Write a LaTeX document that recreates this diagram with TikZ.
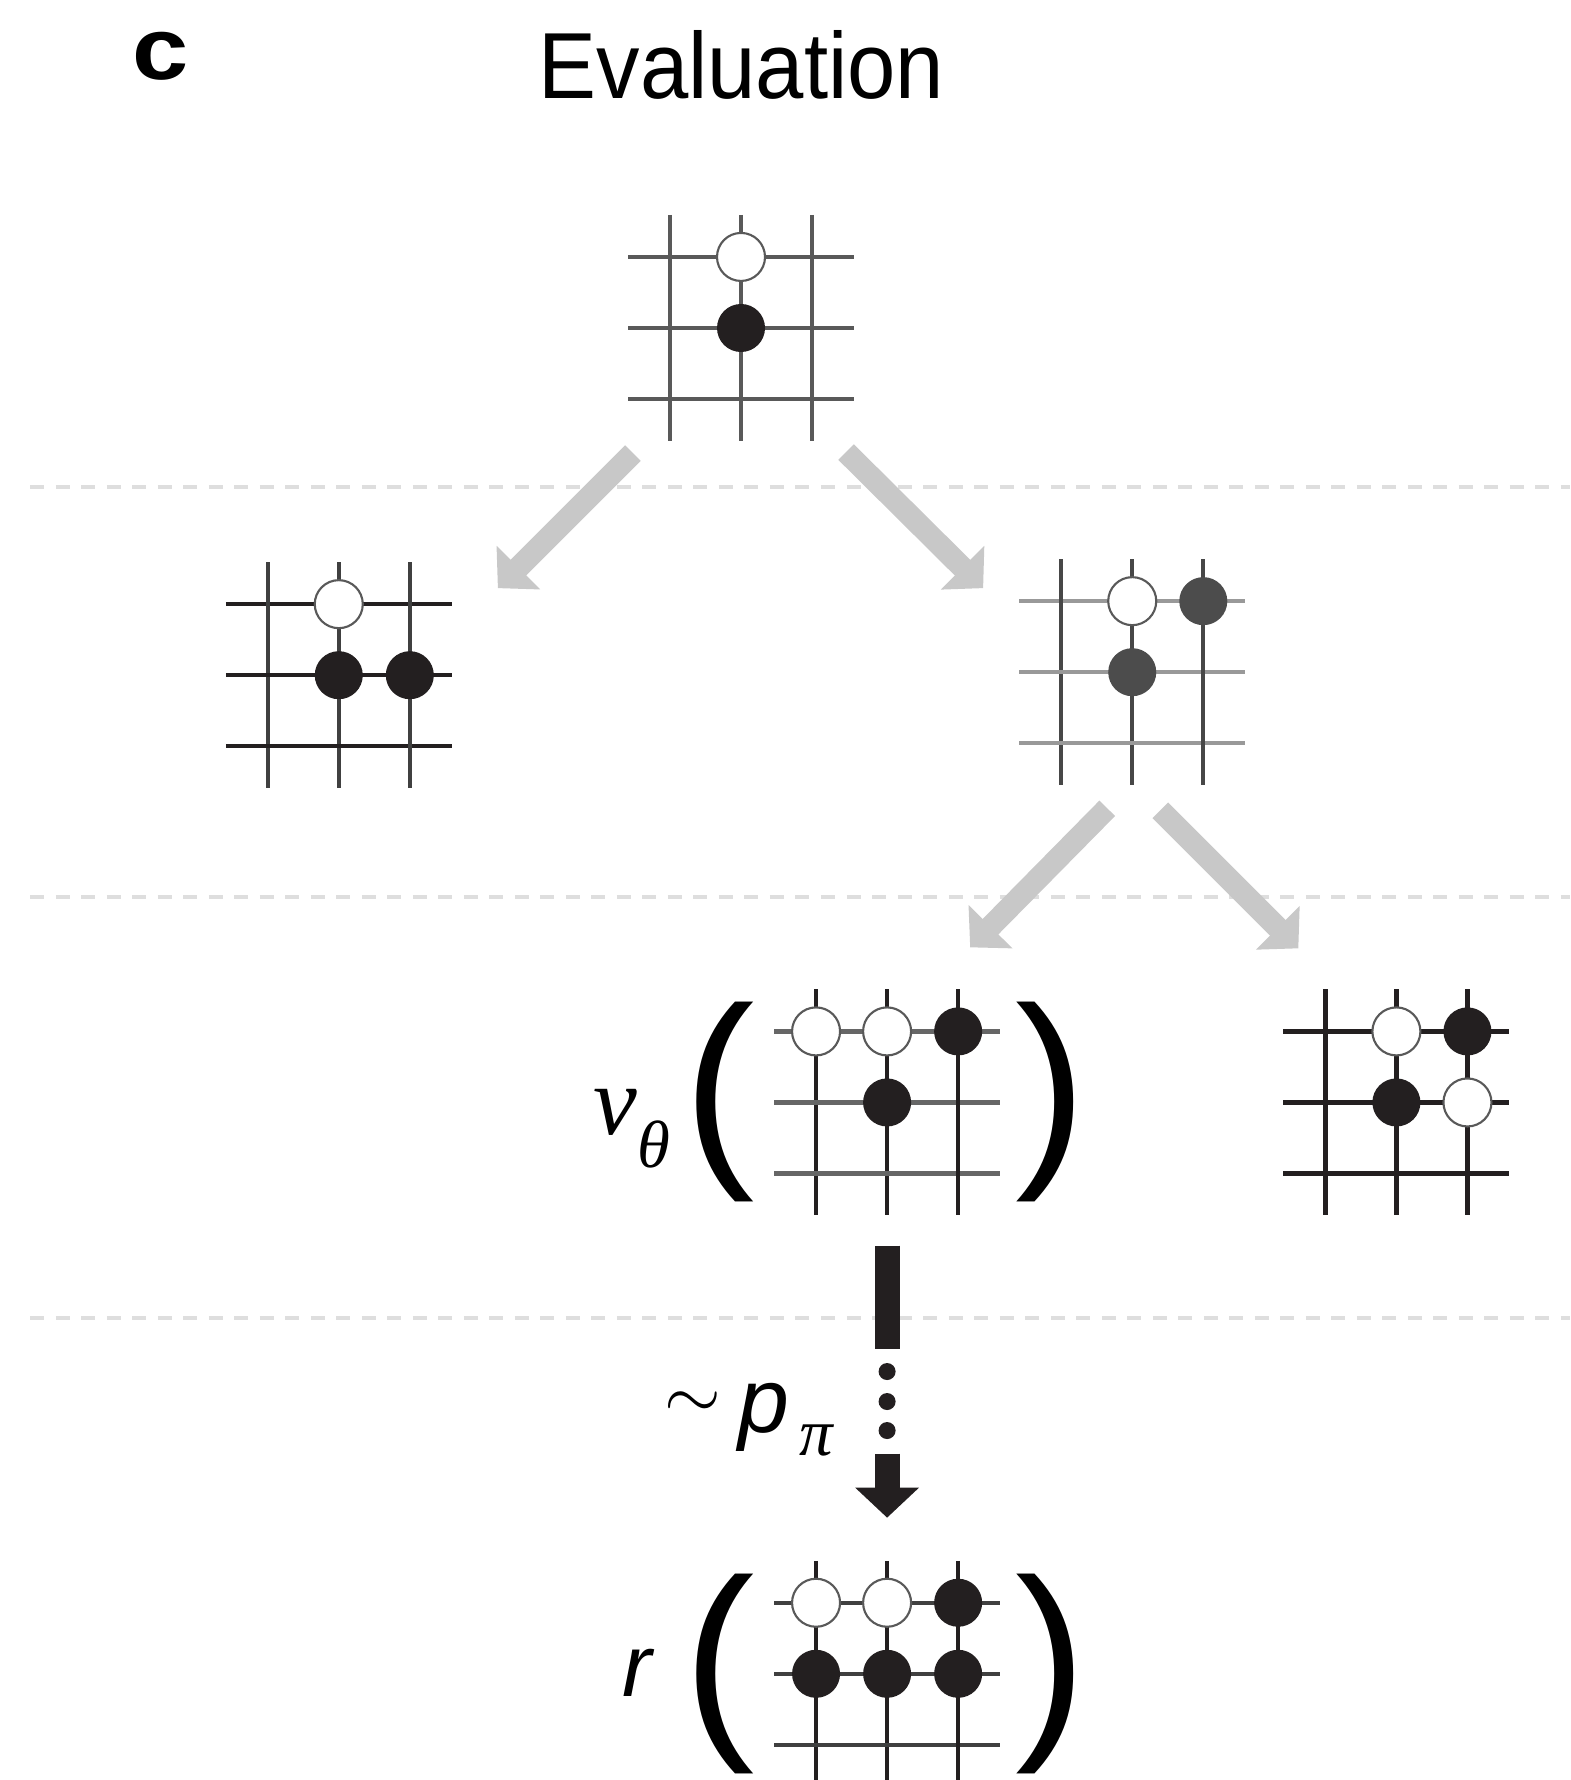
\documentclass[tikz,border=0pt]{standalone}
\usepackage{fontspec}
\setmainfont{Liberation Sans}
\newfontfamily\timesfont{Liberation Serif}
\usetikzlibrary{arrows.meta,positioning,calc}

\definecolor{stoneblack}{HTML}{231F20}
\definecolor{branchgray}{HTML}{C8C8C8}
\definecolor{rulegray}{HTML}{DEDEDE}

\tikzset{
  board/.style={minimum size=2.28cm, inner sep=0pt},
  gridline/.style={line width=1.2pt},
  wstone/.style={circle, draw=black!65, fill=white, line width=0.6pt, minimum size=0.48cm, inner sep=0pt},
  bstone/.style={circle, fill=stoneblack, minimum size=0.48cm, inner sep=0pt},
  gstone/.style={circle, fill=black!70, minimum size=0.48cm, inner sep=0pt},
  branch/.style={branchgray, line width=0.22cm, -{Triangle[length=0.29cm,width=0.6cm]}},
  rollout/.style={stoneblack, line width=0.25cm},
  sepline/.style={rulegray, line width=1.1pt, dash pattern=on 0.14cm off 0.115cm},
  paren/.style={inner sep=0pt, font=\fontsize{61}{62}\selectfont},
}

% grid lines of the board at node #1: horizontal colour #2, vertical colour #3
\newcommand{\goboard}[3]{%
  \foreach \k in {-71,0,71} {
    \draw[gridline,#2] ($(#1)+(-113,\k)$) -- ($(#1)+(113,\k)$);
    \draw[gridline,#3] ($(#1)+(\k,-113)$) -- ($(#1)+(\k,113)$);
  }}

\begin{document}
\begin{tikzpicture}[x=0.01cm, y=-0.01cm, on grid, node distance=0.71cm and 0.71cm]
  \useasboundingbox (0,0) rectangle (1570,1780);

  % level separators
  \foreach \y in {487,897,1318}
    \draw[sepline] (30,\y) -- (1570,\y);

  % headings
  \node[anchor=base west, inner sep=0pt, font=\bfseries\fontsize{25}{30}\selectfont] (panel) at (132,80) {\scalebox{1.15}[1]{c}};
  \node[anchor=base west, inner sep=0pt, font=\fontsize{26.7}{30}\selectfont] (title) at (538,99) {\scalebox{0.925}[1]{Evaluation}};

  % boards
  \node[board] (A) at (741,328) {};
  \node[board] (B) [below left=3.47cm and 4.02cm of A] {};
  \node[board] (C) [below right=3.44cm and 3.91cm of A] {};
  \node[board] (D) [below left=4.30cm and 2.45cm of C] {};
  \node[board] (E) [below right=4.30cm and 2.64cm of C] {};
  \node[board] (F) [below=5.71cm of D] {};

  \goboard{A}{black!65}{black!65}
  \goboard{B}{stoneblack}{black!75}
  \goboard{C}{black!40}{black!72}
  \goboard{D}{black!60}{stoneblack}
  \goboard{E}{stoneblack}{stoneblack}
  \goboard{F}{black!75}{stoneblack}

  % stones
  \node[wstone] (A1) [above=of A] {};
  \node[bstone] (A2) at (A) {};

  \node[wstone] (B1) [above=of B] {};
  \node[bstone] (B2) at (B) {};
  \node[bstone] (B3) [right=of B] {};

  \node[wstone] (C1) [above=of C] {};
  \node[gstone] (C2) [above right=of C] {};
  \node[gstone] (C3) at (C) {};

  \node[wstone] (D1) [above left=of D] {};
  \node[wstone] (D2) [above=of D] {};
  \node[bstone] (D3) [above right=of D] {};
  \node[bstone] (D4) at (D) {};

  \node[wstone] (E1) [above=of E] {};
  \node[bstone] (E2) [above right=of E] {};
  \node[bstone] (E3) at (E) {};
  \node[wstone] (E4) [right=of E] {};

  \node[wstone] (F1) [above left=of F] {};
  \node[wstone] (F2) [above=of F] {};
  \node[bstone] (F3) [above right=of F] {};
  \node[bstone] (F4) [left=of F] {};
  \node[bstone] (F5) at (F) {};
  \node[bstone] (F6) [right=of F] {};

  % value and rollout brackets
  \node[paren] (D-lp) [left=1.68cm of D] {(};
  \node[paren] (D-rp) [right=1.64cm of D] {)};
  \node[paren] (F-lp) [left=1.68cm of F] {(};
  \node[paren] (F-rp) [right=1.64cm of F] {)};

  \node[anchor=base west, inner sep=0pt] (vtheta) at (593,1134)
    {\timesfont\itshape\fontsize{28}{30}\selectfont v\raisebox{-0.33cm}{\fontsize{19}{20}\selectfont θ}};
  \node[anchor=base west, inner sep=0pt] (rlabel) at (622,1696)
    {\itshape\fontsize{25}{30}\selectfont r};

  % branch arrows
  \coordinate[below left=1.25cm and 1.08cm of A] (A-l);
  \coordinate[above right=0.87cm and 1.59cm of B] (B-in);
  \coordinate[below right=1.24cm and 1.05cm of A] (A-r);
  \coordinate[above left=0.84cm and 1.49cm of C] (C-in);
  \coordinate[below left=1.36cm and 0.25cm of C] (C-l);
  \coordinate[above right=1.55cm and 0.83cm of D] (D-in);
  \coordinate[below right=1.38cm and 0.28cm of C] (C-r);
  \coordinate[above left=1.54cm and 0.98cm of E] (E-in);

  \draw[branch] (A-l) -- (B-in);
  \draw[branch] (A-r) -- (C-in);
  \draw[branch] (C-l) -- (D-in);
  \draw[branch] (C-r) -- (E-in);

  % rollout arrow
  \coordinate[below=1.43cm of D] (D-out);
  \coordinate[above=1.56cm of F] (F-in);
  \draw[rollout] (D-out) -- ++(0,103);
  \foreach \dy in {126,156,185}
    \fill[stoneblack] ($(D-out)+(0,\dy)$) circle[radius=0.085cm];
  \draw[rollout, -{Triangle[length=0.3cm,width=0.62cm]}] ($(D-out)+(0,208)$) -- (F-in);

  \node (sim) at (693,1405) {\fontsize{21}{24}\selectfont$\sim$};
  \node[anchor=base west, inner sep=0pt] (ppi) at (738,1432)
    {\itshape\fontsize{26}{30}\selectfont p\hspace{0.1cm}{\timesfont\fontsize{19}{20}\selectfont\raisebox{-0.23cm}{π}}};
\end{tikzpicture}
\end{document}
